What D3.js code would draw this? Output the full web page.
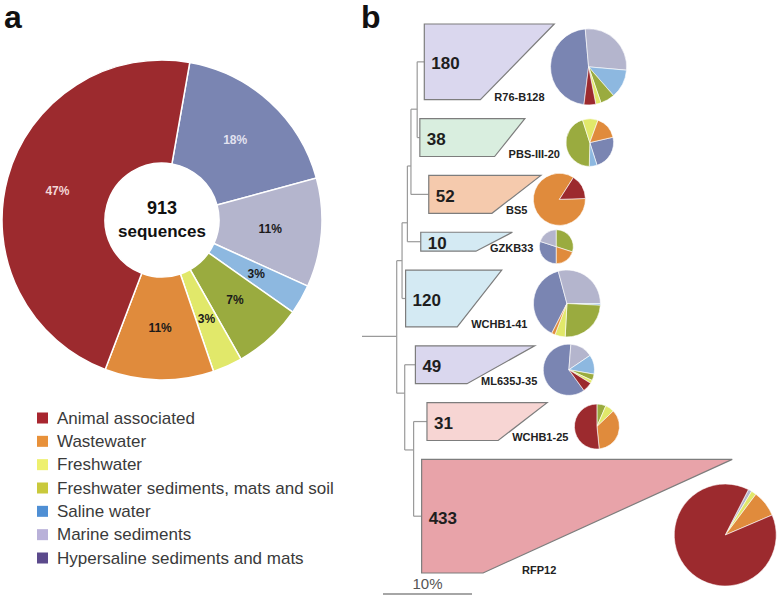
<!DOCTYPE html>
<html><head><meta charset="utf-8">
<script src="https://cdn.jsdelivr.net/npm/d3@7"></script>
<style>body{margin:0;background:#fff}svg{display:block;font-family:"Liberation Sans",Arial,sans-serif}</style>
</head><body>
<svg id="c" width="781" height="599"></svg>
<script>
// ---------- data ----------
const categories = ["Animal associated","Wastewater","Freshwater","Freshwater sediments, mats and soil","Saline water","Marine sediments","Hypersaline sediments and mats"];
const sliceColors = ["#9c2a2e","#e08b3c","#e1e86a","#9aab3f","#8db8e0","#b4b5cd","#7a85b2"];
const legendColors = ["#a8262f","#e8913a","#eef06e","#c9c93c","#4f8fd4","#b9b1d9","#5b4a8c"];
const totalSequences = 913;
const overallPercent = [47, 11, 3, 7, 3, 11, 18];

const cladeNames = ["R76-B128","PBS-III-20","BS5","GZKB33","WCHB1-41","ML635J-35","WCHB1-25","RFP12"];
const cladeCounts = [180, 38, 52, 10, 120, 49, 31, 433];
const cladeStemDepth = [7.0, 6.5, 7.5, 6.6, 4.9, 6.0, 7.3, 6.7];
const cladeMinDepth = [13.3, 14.9, 14.6, 12.8, 10.7, 11.8, 15.3, 13.6];
const cladeMaxDepth = [21.6, 18.3, 20.1, 16.9, 15.7, 19.4, 20.8, 41.6];
const cladeRows = [4, 2, 2, 1, 3, 2, 2, 6];
// composition per clade in category order
const cladeComposition = [
  [9, 0, 4, 11, 22, 50, 84],
  [0, 6, 4, 17, 2, 0, 9],
  [8, 44, 0, 0, 0, 0, 0],
  [0, 2, 0, 3, 0, 2, 3],
  [0, 2, 6, 30, 1, 35, 46],
  [3, 0, 1, 2, 6, 7, 30],
  [16, 11, 2, 2, 0, 0, 0],
  [385, 36, 7, 0, 0, 5, 0]
];
const pieRotationDeg = [187, 77, 88, 180, 207, 144, 0, 27];
const cladeFill = ["#dad7ee","#d9eedf","#f5caad","#d4eaf3","#d4eaf3","#dad7ee","#f7d5d3","#e8a3a9"];
// tree topology with internal node depths (% divergence)
const tree = {depth: 3.9, children: [
  {depth: 4.5, children: [
    {depth: 5.1, children: [
      {depth: 5.5, children: [
        {depth: 6.2, children: [{clade: 0}, {clade: 1}]},
        {clade: 2}]},
      {clade: 3}]},
    {clade: 4}]},
  {depth: 4.8, children: [
    {clade: 5},
    {depth: 5.8, children: [{clade: 6}, {clade: 7}]}]}
]};
const scaleBarPercent = 10;

// ---------- drawing ----------
const svg = d3.select("#c");
const toRad = d => d * Math.PI / 180;

// panel letters
svg.append("text").attr("x", 4).attr("y", 28).attr("font-size", 32).attr("font-weight", "bold").attr("fill", "#111").text("a");
svg.append("text").attr("x", 361).attr("y", 28).attr("font-size", 32).attr("font-weight", "bold").attr("fill", "#111").text("b");

// ----- panel a: donut -----
const cx = 162, cy = 220, rOuter = 160, rInner = 57;
const order = d3.range(categories.length).reverse(); // clockwise drawing order
const donutPie = d3.pie().sort(null).value(i => overallPercent[i])
  .startAngle(toRad(10)).endAngle(toRad(370));
const donutArc = d3.arc().innerRadius(rInner).outerRadius(rOuter);
const gA = svg.append("g").attr("transform", `translate(${cx},${cy})`);
const arcs = donutPie(order);
gA.selectAll("path").data(arcs).join("path")
  .attr("d", donutArc).attr("fill", d => sliceColors[d.data])
  .attr("stroke", "#fff").attr("stroke-width", 1.5);
const labelArc = d3.arc().innerRadius((rInner + rOuter) / 2).outerRadius((rInner + rOuter) / 2);
const lightLabel = {0: "#f3d6d6", 6: "#e2e2f0"};
gA.selectAll("text.pct").data(arcs).join("text").attr("class", "pct")
  .attr("transform", d => `translate(${labelArc.centroid(d)})`)
  .attr("text-anchor", "middle").attr("dominant-baseline", "central")
  .attr("font-size", 12).attr("font-weight", "bold")
  .attr("fill", d => lightLabel[d.data] || "#1a1a1a")
  .text(d => overallPercent[d.data] + "%");
gA.append("text").attr("text-anchor", "middle").attr("y", -6).attr("font-size", 18).attr("font-weight", "bold").attr("fill", "#111").text(totalSequences);
gA.append("text").attr("text-anchor", "middle").attr("y", 17).attr("font-size", 17).attr("font-weight", "bold").attr("fill", "#111").text("sequences");

// legend
const legY = d3.scalePoint().domain(d3.range(categories.length)).range([418, 558]);
const leg = svg.append("g");
categories.forEach((c, i) => {
  leg.append("rect").attr("x", 37).attr("y", legY(i) - 5.5).attr("width", 11).attr("height", 11).attr("fill", legendColors[i]);
  leg.append("text").attr("x", 57).attr("y", legY(i)).attr("dominant-baseline", "central")
    .attr("font-size", 17).attr("fill", "#3a3a3a").text(c);
});

// ----- panel b: tree -----
const x0 = 362, pxPerPct = 8.9;
const xS = d3.scaleLinear().domain([0, 10]).range([x0, x0 + 10 * pxPerPct]);
const totalRows = d3.sum(cladeRows) + (cladeRows.length - 1);
const yS = d3.scaleLinear().domain([0, totalRows]).range([24, 573]);

const root = d3.hierarchy(tree);
let cursor = 0;
root.eachAfter(n => {
  if (!n.children) {
    const k = n.data.clade;
    n.top = cursor; n.bottom = cursor + cladeRows[k];
    cursor = n.bottom + 1;
    n.yv = (n.top + n.bottom) / 2;
    n.dx = cladeStemDepth[k];
  } else {
    n.top = n.children[0].top; n.bottom = n.children[n.children.length - 1].bottom;
    n.yv = (n.children[0].bottom + n.children[1].top) / 2;
    n.dx = n.data.depth;
  }
});
const gT = svg.append("g").attr("stroke", "#9a9a9a").attr("stroke-width", 1.2).attr("fill", "none");
gT.append("line").attr("x1", xS(0)).attr("x2", xS(root.dx)).attr("y1", yS(root.yv)).attr("y2", yS(root.yv));
root.each(n => {
  if (!n.children) return;
  gT.append("line").attr("x1", xS(n.dx)).attr("x2", xS(n.dx))
    .attr("y1", yS(n.children[0].yv)).attr("y2", yS(n.children[1].yv));
  n.children.forEach(c => {
    gT.append("line").attr("x1", xS(n.dx)).attr("x2", xS(c.dx)).attr("y1", yS(c.yv)).attr("y2", yS(c.yv));
  });
});

// clades
const pieR = d3.scalePow().exponent(0.4).domain([10, 433]).range([17, 51]);
const gC = svg.append("g");
root.leaves().forEach(n => {
  const k = n.data.clade;
  const top = yS(n.top), bot = yS(n.bottom), xs = xS(cladeStemDepth[k]);
  const xmin = xS(cladeMinDepth[k]), xmax = xS(cladeMaxDepth[k]);
  gC.append("path").attr("d", d3.line()([[xs, top], [xmax, top], [xmin, bot], [xs, bot]]) + "Z")
    .attr("fill", cladeFill[k]).attr("stroke", "#7d7d7d").attr("stroke-width", 1.2);
  gC.append("text").attr("x", xs + 7).attr("y", yS(n.yv) + 2).attr("dominant-baseline", "central")
    .attr("font-size", 17).attr("font-weight", "bold").attr("fill", "#1e1e1e").text(cladeCounts[k]);
  const longWedge = cladeMaxDepth[k] - cladeMinDepth[k] > 20;
  const lbl = gC.append("text").attr("x", xmin + (longWedge ? 39 : 14)).attr("y", bot + 1)
    .attr("font-size", 11).attr("font-weight", "bold").attr("fill", "#222").text(cladeNames[k]);
  const lw = lbl.node().getComputedTextLength();
  const r = pieR(cladeCounts[k]);
  let pcx, pcy;
  if (longWedge) { pcx = xmax - 7; pcy = bot - 38; }
  else { pcx = xmin + 14 + lw + 6 + r; pcy = yS(n.yv) + 5; }
  const pie = d3.pie().sort(null).value(i => cladeComposition[k][i])
    .startAngle(toRad(pieRotationDeg[k])).endAngle(toRad(pieRotationDeg[k] + 360));
  const arc = d3.arc().innerRadius(0).outerRadius(r);
  gC.append("g").attr("transform", `translate(${pcx},${pcy})`)
    .selectAll("path").data(pie(order).filter(d => d.value > 0)).join("path")
    .attr("d", arc).attr("fill", d => sliceColors[d.data])
    .attr("stroke", "#fff").attr("stroke-width", 0.6);
});

// scale bar
const sbX = 383, sbLen = xS(scaleBarPercent) - xS(0);
svg.append("line").attr("x1", sbX).attr("x2", sbX + sbLen).attr("y1", 594).attr("y2", 594)
  .attr("stroke", "#888").attr("stroke-width", 1.5);
svg.append("text").attr("x", sbX + sbLen / 2).attr("y", 589).attr("text-anchor", "middle")
  .attr("font-size", 15).attr("fill", "#555").text(scaleBarPercent + "%");
</script>
</body></html>
